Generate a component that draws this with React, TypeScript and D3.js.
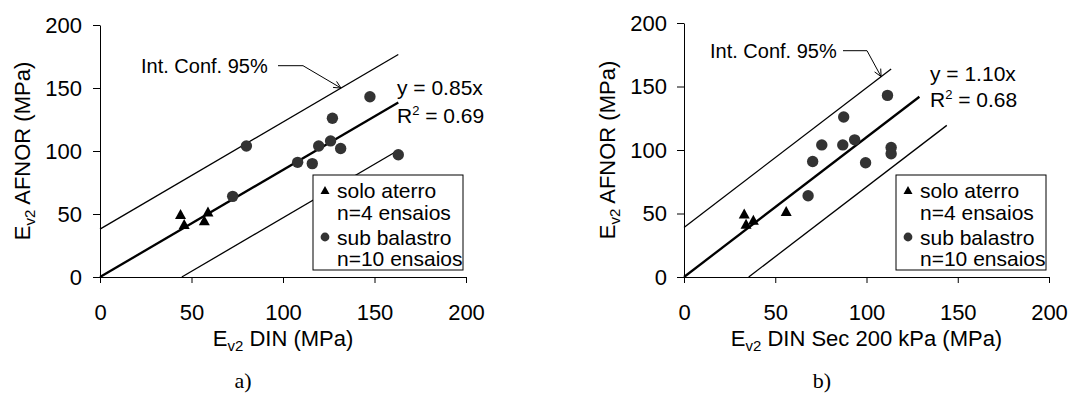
import React, { useEffect, useRef } from 'react';
import { select, scaleLinear, axisLeft, axisBottom } from 'd3';

const FONT = "'Liberation Sans', Arial, sans-serif";
const SERIF = "'Liberation Serif', 'Times New Roman', serif";

const axisTicks = [0, 50, 100, 150, 200];

// Ev2 AFNOR (same samples in both panels)
const afnorSolo = [50, 42, 45, 52];
const afnorSub = [64, 104, 91, 90, 104, 108, 126, 102, 143, 97];

// a) Ev2 DIN
const dinSolo = [44, 46, 57, 59];
const dinSub = [72.5, 80, 108, 116, 119.5, 126, 127, 131.5, 147.5, 163];

// b) Ev2 DIN Sec 200 kPa
const secSolo = [33, 34, 38, 56];
const secSub = [68, 75.5, 70.5, 99.5, 87, 93.5, 87.5, 113.5, 111.5, 113.5];

// trend line + 95% confidence band
const slopes = [0.85, 1.1];
const slopeLabels = ['0.85', '1.10'];
const r2Labels = ['0.69', '0.68'];
const confOffsets = [38, 39];
const upperEnds = [163, 113.5];
const fitEnds = [163, 129];
const lowerEnds = [163, 144];
const arrowAt = [131.7, 108];

const xTitles = [' DIN (MPa)', ' DIN Sec 200 kPa (MPa)'];
const yTitle = ' AFNOR (MPa)';
const legendLabels = ['solo aterro', 'n=4 ensaios', 'sub balastro', 'n=10 ensaios'];
const captions = ['a)', 'b)'];

type PanelProps = {
    idx: number;
    xRange: [number, number];
    yRange: [number, number];
    xVals: { solo: number[]; sub: number[] };
    yLabelPad: number;
    yTitleX: number;
    eq: [number, number, number];
    conf: [number, number];
    leader: [number, number];
    captionX: number;
};

function Panel({ idx, xRange, yRange, xVals, yLabelPad, yTitleX, eq, conf, leader, captionX }: PanelProps) {
    const xAxisRef = useRef<SVGGElement | null>(null);
    const yAxisRef = useRef<SVGGElement | null>(null);

    const x = scaleLinear().domain([0, 200]).range(xRange);
    const y = scaleLinear().domain([0, 200]).range(yRange);

    useEffect(() => {
        const gx = select(xAxisRef.current);
        gx.call(axisBottom(x).tickValues(axisTicks).tickSize(6).tickSizeOuter(0).tickPadding(21) as any);
        gx.attr('font-family', FONT).attr('font-size', 22);
        gx.selectAll('line, path').attr('stroke', '#000');
        gx.selectAll('text').attr('fill', '#000');

        const gy = select(yAxisRef.current);
        gy.call(axisLeft(y).tickValues(axisTicks).tickSize(7).tickSizeOuter(0).tickPadding(yLabelPad) as any);
        gy.attr('font-family', FONT).attr('font-size', 22);
        gy.selectAll('line, path').attr('stroke', '#000');
        gy.selectAll('text').attr('fill', '#000');
    }, []);

    const m = slopes[idx];
    const c = confOffsets[idx];
    const upper = [0, upperEnds[idx]].map((v) => [x(v), y(m * v + c)]);
    const fit = [0, fitEnds[idx]].map((v) => [x(v), y(m * v)]);
    const lower = [c / m, lowerEnds[idx]].map((v) => [x(v), y(m * v - c)]);
    const seg = (p: number[][]) => `M${p[0][0]},${p[0][1]}L${p[1][0]},${p[1][1]}`;

    // arrow from the label to the upper confidence line
    const tipX = x(arrowAt[idx]);
    const tipY = y(m * arrowAt[idx] + c);
    const leadY = conf[1] - 7;
    const ang = Math.atan2(tipY - leadY, tipX - leader[1]);
    const barb = (d: number) => [tipX - 8 * Math.cos(ang + d), tipY - 8 * Math.sin(ang + d)];
    const b1 = barb(0.45);
    const b2 = barb(-0.45);

    const tri = (cx: number, cy: number, w: number, h: number) =>
        `M${cx},${cy - h / 2}L${cx + w / 2},${cy + h / 2}L${cx - w / 2},${cy + h / 2}Z`;

    const lx = xRange[1] - 153;
    const ly = 175;
    const midX = (xRange[0] + xRange[1]) / 2;
    const midY = (yRange[0] + yRange[1]) / 2;

    return (
        <g>
            <g ref={xAxisRef} transform={`translate(0,${yRange[0]})`} />
            <g ref={yAxisRef} transform={`translate(${xRange[0]},0)`} />

            <path d={seg(upper)} stroke="#000" strokeWidth={1.3} fill="none" />
            <path d={seg(lower)} stroke="#000" strokeWidth={1.3} fill="none" />
            <path d={seg(fit)} stroke="#000" strokeWidth={2.3} fill="none" />

            {xVals.sub.map((v, i) => (
                <circle key={'c' + i} cx={x(v)} cy={y(afnorSub[i])} r={5.7} fill="#333" />
            ))}
            {xVals.solo.map((v, i) => (
                <path key={'t' + i} d={tri(x(v), y(afnorSolo[i]), 11, 10)} fill="#000" />
            ))}

            <text x={conf[0]} y={conf[1]} fontFamily={FONT} fontSize={20}>Int. Conf. 95%</text>
            <path
                d={`M${leader[0]},${leadY}H${leader[1]}L${tipX},${tipY}M${b1[0]},${b1[1]}L${tipX},${tipY}L${b2[0]},${b2[1]}`}
                stroke="#000"
                strokeWidth={1}
                fill="none"
            />

            <text x={eq[0]} y={eq[1]} fontFamily={FONT} fontSize={21}>{`y = ${slopeLabels[idx]}x`}</text>
            <text x={eq[0]} y={eq[2]} fontFamily={FONT} fontSize={21}>
                R<tspan fontSize={13} dy={-8}>2</tspan>
                <tspan dy={8}>{` = ${r2Labels[idx]}`}</tspan>
            </text>

            <rect x={lx} y={ly} width={150} height={95} fill="#fff" stroke="#000" strokeWidth={1} />
            <path d={tri(lx + 12, ly + 15, 9, 8)} fill="#000" />
            <circle cx={lx + 12} cy={ly + 62} r={4.4} fill="#333" />
            {legendLabels.map((t, i) => (
                <text key={t} x={lx + 24} y={ly + [15, 37, 62, 83][i]} dy="0.36em" fontFamily={FONT} fontSize={21}>
                    {t}
                </text>
            ))}

            <text x={midX} y={346} textAnchor="middle" fontFamily={FONT} fontSize={22}>
                E<tspan fontSize={15} dy={5}>v2</tspan>
                <tspan dy={-5}>{xTitles[idx]}</tspan>
            </text>
            <text
                transform={`translate(${yTitleX},${midY}) rotate(-90)`}
                textAnchor="middle"
                dy="0.36em"
                fontFamily={FONT}
                fontSize={22}
            >
                E<tspan fontSize={15} dy={5}>v2</tspan>
                <tspan dy={-5}>{yTitle}</tspan>
            </text>

            <text x={captionX} y={388} textAnchor="middle" fontFamily={SERIF} fontSize={22}>
                {captions[idx]}
            </text>
        </g>
    );
}

export default function App() {
    return (
        <svg width={1070} height={394} style={{ position: 'absolute', left: 0, top: 0, background: '#fff' }}>
            <rect width={1070} height={394} fill="#fff" />
            <Panel
                idx={0}
                xRange={[100, 466]}
                yRange={[277, 25]}
                xVals={{ solo: dinSolo, sub: dinSub }}
                yLabelPad={11}
                yTitleX={22}
                eq={[397, 95, 123]}
                conf={[141, 72.7]}
                leader={[278, 303]}
                captionX={243}
            />
            <Panel
                idx={1}
                xRange={[684, 1049]}
                yRange={[277, 23]}
                xVals={{ solo: secSolo, sub: secSub }}
                yLabelPad={10}
                yTitleX={607}
                eq={[930, 81, 107]}
                conf={[710, 57.7]}
                leader={[843, 867]}
                captionX={822}
            />
        </svg>
    );
}
